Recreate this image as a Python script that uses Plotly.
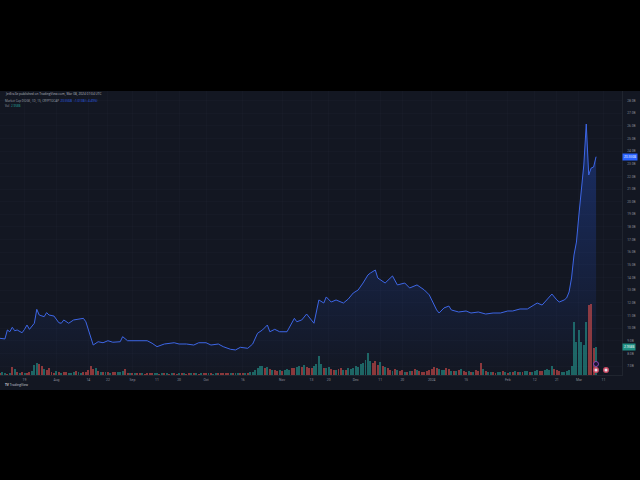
import plotly.graph_objects as go
import pandas as pd

# ---------------- data ----------------
START = "2023-07-09"
# day offsets from START and market cap (billions USD)
price_day = [0, 2, 3, 4, 5, 6, 7, 9, 10, 11, 12, 14, 15, 16, 18, 19, 20, 22, 24, 25,
             26, 28, 30, 32, 34, 35, 36, 38, 40, 42, 44, 46, 49, 50, 52, 54, 57, 60, 62, 64,
             67, 69, 71, 73, 76, 79, 81, 84, 86, 89, 91, 94, 96, 98, 101, 103, 105, 107, 109, 110,
             112, 114, 117, 120, 121, 123, 125, 128, 130, 132, 133, 135, 137, 140, 142, 144, 146, 148, 150, 151,
             153, 154, 157, 160, 162, 165, 167, 170, 173, 175, 176, 178, 179, 181, 183, 184, 187, 190, 192, 195,
             198, 201, 204, 207, 209, 212, 215, 217, 219, 221, 223, 225, 227, 228, 230, 231, 232, 233, 234, 235,
             236, 237, 238, 239, 240, 241, 242, 243]
price_bn = [9.20, 9.15, 9.86, 9.72, 10.07, 9.80, 9.86, 9.64, 9.91, 10.25, 9.91, 10.39, 11.49, 11.04, 10.91, 11.23, 11.04, 10.96, 10.43, 10.39,
            10.65, 10.39, 10.65, 10.70, 10.78, 10.51, 9.86, 8.67, 8.93, 8.85, 9.01, 8.89, 8.93, 9.33, 9.01, 9.01, 8.96, 9.01, 8.81, 8.54,
            8.75, 8.81, 8.85, 8.75, 8.75, 8.67, 8.85, 8.85, 8.67, 8.75, 8.54, 8.33, 8.28, 8.49, 8.41, 8.75, 9.60, 9.86, 10.25, 9.72,
            9.91, 9.72, 9.72, 10.78, 10.51, 10.65, 11.12, 10.39, 12.23, 11.99, 12.47, 12.07, 12.23, 11.99, 12.31, 12.78, 13.02, 13.57, 14.21, 14.36,
            14.60, 13.97, 13.57, 14.13, 13.42, 13.57, 13.18, 13.42, 13.02, 12.63, 12.23, 11.44, 11.20, 11.60, 11.75, 11.44, 11.28, 11.36, 11.20, 11.28,
            11.12, 11.20, 11.20, 11.36, 11.36, 11.52, 11.52, 11.75, 11.99, 11.83, 12.31, 12.70, 12.23, 12.07, 12.23, 12.39, 12.86, 13.97, 15.79, 16.81,
            18.95, 20.92, 22.90, 26.14, 22.11, 22.66, 22.74, 23.556]

# daily volume (billions USD), one per day from START
volume_bn = [0.20, 0.30, 0.22, 0.15, 0.20, 0.85, 0.60, 0.30, 0.22, 0.32,
             0.22, 0.25, 0.30, 0.45, 1.10, 1.30, 1.20, 0.95, 0.65, 0.55,
             0.75, 0.30, 0.25, 0.40, 0.30, 0.20, 0.35, 0.30, 0.25, 0.20,
             0.35, 0.40, 0.30, 0.25, 0.30, 0.35, 0.55, 0.95, 0.65, 0.80,
             0.40, 0.35, 0.30, 0.35, 0.30, 0.25, 0.30, 0.35, 0.30, 0.30,
             0.40, 0.60, 0.25, 0.20, 0.22, 0.18, 0.20, 0.25, 0.18, 0.15,
             0.20, 0.22, 0.18, 0.25, 0.20, 0.15, 0.18, 0.20, 0.22, 0.15,
             0.18, 0.20, 0.15, 0.18, 0.22, 0.20, 0.15, 0.18, 0.20, 0.22,
             0.18, 0.15, 0.20, 0.18, 0.22, 0.25, 0.20, 0.15, 0.18, 0.20,
             0.22, 0.25, 0.20, 0.18, 0.22, 0.25, 0.20, 0.22, 0.18, 0.20,
             0.22, 0.25, 0.30, 0.35, 0.50, 0.70, 0.95, 1.00, 0.80, 0.90,
             0.60, 0.55, 0.50, 0.45, 0.55, 0.40, 0.50, 0.60, 0.50, 0.80,
             0.70, 0.90, 1.00, 0.85, 1.10, 0.90, 0.80, 0.70, 0.95, 1.20,
             2.00, 1.20, 0.70, 0.80, 0.90, 0.60, 0.55, 0.50, 0.60, 0.70,
             0.50, 0.55, 0.70, 0.60, 0.80, 1.00, 0.90, 1.20, 1.30, 1.60,
             2.40, 1.50, 1.30, 1.50, 1.10, 1.40, 1.00, 0.90, 0.80, 0.50,
             0.40, 0.60, 0.55, 0.45, 0.50, 0.35, 0.30, 0.40, 0.45, 0.60,
             0.50, 0.40, 0.35, 0.30, 0.45, 0.50, 0.60, 0.90, 0.70, 0.60,
             0.50, 0.55, 0.80, 0.60, 0.45, 0.40, 0.40, 0.50, 0.60, 0.45,
             0.35, 0.40, 0.30, 0.35, 0.50, 0.40, 1.30, 0.60, 0.40, 0.30,
             0.35, 0.30, 0.25, 0.30, 0.35, 0.40, 0.30, 0.25, 0.30, 0.35,
             0.40, 0.35, 0.30, 0.35, 0.40, 0.45, 0.35, 0.30, 0.40, 0.50,
             0.45, 0.40, 0.55, 0.60, 0.50, 0.95, 0.60, 0.50, 0.40, 0.35,
             0.35, 0.45, 0.50, 0.95, 5.70, 3.50, 4.80, 3.50, 3.20, 5.70,
             7.50, 7.60, 2.90, 2.958]
# G = up day, R = down day
volume_dir = ("RGGRGRGRGR" "GRRGGGRRGR" "RRRGRGRRGG" "GRGGRRRRRG" "RGRGRGRRGG"
              "GRRGRGRRGR" "RRRGGRGRGR" "GRRGRGRRGR" "GRGRRGRGGR" "RRRRGRGGRR"
              "GRGGGGGGRG" "RGRRGRGGGR" "RGGRGRRRGG" "GGRGGRRGRR" "GRGGGGGGGG"
              "GGRRRGRGRR" "GRGRRGRGRR" "GRRRRRRRRG" "GGRRGRGRGR" "RGRGRRRGRG"
              "GRRGGRGRGR" "GRGRGGRGGG" "RRGGGGRRRG" "GGGGGGGGGG" "RRRG")

time_tick_dates = ["2023-07-19", "2023-08-01", "2023-08-14", "2023-08-22", "2023-09-01", "2023-09-11",
                   "2023-09-20", "2023-10-01", "2023-10-16", "2023-11-01", "2023-11-13", "2023-11-20",
                   "2023-12-01", "2023-12-11", "2023-12-20", "2024-01-01", "2024-01-15", "2024-02-01",
                   "2024-02-12", "2024-02-21", "2024-03-01", "2024-03-11"]
time_tick_text = ["19", "Aug", "14", "22", "Sep", "11", "20", "Oct", "16", "Nov", "13", "20",
                  "Dec", "11", "20", "2024", "15", "Feb", "12", "21", "Mar", "11"]

price_ticks = [7, 8, 9, 10, 11, 12, 13, 14, 15, 16, 17, 18, 19, 20, 21, 22, 23, 24, 25, 26, 27, 28]
price_tick_text = ["7.0B", "8.0B", "9.0B", "10.0B", "11.0B", "12.0B", "13.0B", "14.0B", "15.0B", "16.0B", "17.0B",
                   "18.0B", "19.0B", "20.0B", "21.0B", "22.0B", "23.0B", "24.0B", "25.0B", "26.0B", "27.0B", "28.0B"]

last_price_label = "23.556B"
last_volume_label = "2.958B"

# ---------------- figure ----------------
start = pd.Timestamp(START)
price_dates = [start + pd.Timedelta(days=d) for d in price_day]
vol_dates = pd.date_range(START, periods=len(volume_bn), freq="D")
vol_colors = ["rgba(38,166,154,0.55)" if c == "G" else "rgba(239,83,80,0.55)" for c in volume_dir]

BG = "#131722"
TXT = "#8a8e99"
GRID = "rgba(54,58,69,0.22)"
W, H = 640, 480
ML, MR, MT, MB = 0, 18, 91, 105
PH = H - MT - MB
PW = W - ML - MR


def py(px):  # pixel row -> paper y
    return (H - MB - px) / PH


def pxp(px):  # pixel col -> paper x
    return (px - ML) / PW


fig = go.Figure()
fig.add_trace(go.Scatter(
    x=price_dates, y=price_bn, mode="lines",
    line=dict(color="#3d66e6", width=1),
    fill="tozeroy",
    fillgradient=dict(type="vertical",
                      colorscale=[[0, "rgba(41,98,255,0.0)"], [1, "rgba(41,98,255,0.32)"]],
                      start=6.3, stop=26),
    hoverinfo="skip", showlegend=False))
fig.add_trace(go.Bar(
    x=vol_dates, y=volume_bn, marker=dict(color=vol_colors, line=dict(width=0)),
    width=86400000 * 0.8, yaxis="y2", showlegend=False, hoverinfo="skip"))

fig.update_layout(
    width=W, height=H,
    margin=dict(l=ML, r=MR, t=MT, b=MB),
    paper_bgcolor=BG, plot_bgcolor=BG,
    bargap=0,
    hovermode=False,
    xaxis=dict(range=["2023-07-09", "2024-03-18 13:40"], tickvals=time_tick_dates, ticktext=time_tick_text,
               showgrid=True, gridcolor=GRID, gridwidth=0.5, zeroline=False,
               ticks="", tickfont=dict(size=3.4, color=TXT, family="Roboto"), ticklabelstandoff=1,
               showline=True, linecolor="#2a2e39", linewidth=0.6),
    yaxis=dict(range=[6.30, 28.75], side="right", tickvals=price_ticks, ticktext=price_tick_text,
               showgrid=True, gridcolor=GRID, gridwidth=0.5, zeroline=False,
               ticks="", tickfont=dict(size=3.2, color=TXT, family="Roboto"), ticklabelstandoff=4,
               showline=True, linecolor="#2a2e39", linewidth=0.6),
    yaxis2=dict(range=[0, 30.5], overlaying="y", visible=False, showgrid=False),
)

annotations = [
    dict(text="JetEra3e published on TradingView.com, Mar 08, 2024 07:04 UTC",
         x=pxp(3), y=py(94), xanchor="left", yanchor="middle", font=dict(size=3.2, color="#b2b5be")),
    dict(text='Market Cap DOGE, 1D, 1S, CRYPTOCAP  <span style="color:#2f63f0">23.556B  +1.013B (+4.49%)</span>',
         x=pxp(3), y=py(100.5), xanchor="left", yanchor="middle", font=dict(size=3.0, color="#9da1ab")),
    dict(text='Vol  <span style="color:#26a69a">2.958B</span>',
         x=pxp(3), y=py(105.5), xanchor="left", yanchor="middle", font=dict(size=3.0, color="#9da1ab")),
    dict(text="<b>TV</b> TradingView", x=pxp(3), y=py(385), xanchor="left", yanchor="middle",
         font=dict(size=3.2, color="#c9ccd4")),
    dict(text=last_price_label, x=1.0, xref="paper", y=price_bn[-1], yref="y", xanchor="left", yanchor="middle",
         xshift=0, font=dict(size=3.2, color="#ffffff"), bgcolor="#2962ff", borderpad=1),
    dict(text=last_volume_label, x=1.0, xref="paper", y=volume_bn[-1], yref="y2", xanchor="left", yanchor="middle",
         xshift=0, font=dict(size=3.2, color="#ffffff"), bgcolor="#1f8f83", borderpad=1),
]
for a in annotations:
    a.setdefault("xref", "paper")
    a.setdefault("yref", "paper")
    a["showarrow"] = False
fig.update_layout(annotations=annotations)

# letterbox bands and small event icons
shapes = [
    dict(type="rect", xref="paper", yref="paper", x0=-0.01, x1=pxp(W + 2), y0=py(91), y1=py(-2),
         fillcolor="#000000", line=dict(width=0), layer="above"),
    dict(type="rect", xref="paper", yref="paper", x0=-0.01, x1=pxp(W + 2), y0=py(H + 2), y1=py(390),
         fillcolor="#000000", line=dict(width=0), layer="above"),
    dict(type="circle", xref="paper", yref="paper", x0=pxp(593.5), x1=pxp(598.5), y0=py(366.5), y1=py(361.5),
         fillcolor="#1a1530", line=dict(color="#9c4fd0", width=0.8), layer="above"),
    dict(type="circle", xref="paper", yref="paper", x0=pxp(593), x1=pxp(599), y0=py(373), y1=py(367),
         fillcolor="#c84a62", line=dict(width=0), layer="above"),
    dict(type="circle", xref="paper", yref="paper", x0=pxp(594.5), x1=pxp(597.5), y0=py(371.5), y1=py(368.5),
         fillcolor="#e8e8f0", line=dict(width=0), layer="above"),
    dict(type="circle", xref="paper", yref="paper", x0=pxp(603), x1=pxp(609), y0=py(373), y1=py(367),
         fillcolor="#c84a62", line=dict(width=0), layer="above"),
    dict(type="circle", xref="paper", yref="paper", x0=pxp(604.5), x1=pxp(607.5), y0=py(371.5), y1=py(368.5),
         fillcolor="#e8e8f0", line=dict(width=0), layer="above"),
]
fig.update_layout(shapes=shapes)

fig.write_html("out.html", config={"displayModeBar": False, "staticPlot": True},
               post_script="document.body.style.margin='0';document.body.style.background='#000';")
